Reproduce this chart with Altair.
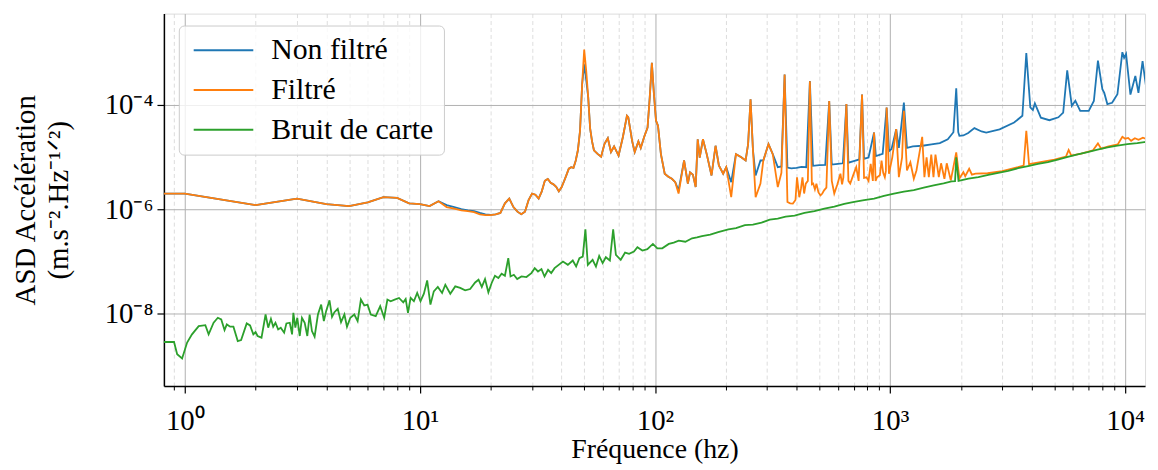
import math
import altair as alt
import pandas as pd

SERIES = ["Non filtré", "Filtré", "Bruit de carte"]
COLORS = ["#1f77b4", "#ff7f0e", "#2ca02c"]

blue_f = [0.5, 1, 2, 3, 4, 5, 6, 7, 8, 9, 10, 11, 12, 13, 14, 15, 16, 17, 18, 19, 20,
          21, 22, 23, 24, 25, 26, 27, 28, 29, 30, 31, 32, 33, 34, 35, 36, 37, 38, 39, 40,
          41, 42, 43, 44, 45, 46, 47, 48, 49, 50, 51, 52, 53, 54, 55, 57, 59, 61, 63, 65,
          67, 70, 73, 76, 77, 80, 82, 85, 87, 90, 93, 95, 97, 99, 101, 103, 106, 110, 114,
          118, 122, 126, 133, 138, 141, 145, 149, 152, 155, 160, 166, 174, 181, 187, 195,
          201, 211, 221, 232, 243, 249, 255, 261, 268, 281, 289, 304, 317, 333, 345, 356,
          366, 380, 400, 420, 440, 456, 470, 500, 530, 551, 565, 600, 630, 652, 665, 700,
          740, 760, 775, 810, 855, 870, 930, 967, 990, 1015, 1062, 1090, 1145, 1180, 1250,
          1374, 1500, 1628, 1760, 1860, 1912, 1950, 1972, 2050, 2150, 2284, 2450, 2565,
          2923, 3370, 3655, 3798, 3950, 4050, 4130, 4380, 4760, 5200, 5450, 5670, 5930,
          6140, 6440, 7000, 7360, 7660, 8000, 8150, 8400, 8800, 9270, 9730, 9900, 10090,
          10530, 11050, 11390, 11860, 12400]
blue_asd = [2.0e-6, 2.0e-6, 1.2e-6, 1.6e-6, 1.25e-6, 1.15e-6, 1.35e-6, 1.7e-6, 1.65e-6,
            1.3e-6, 1.25e-6, 1.15e-6, 1.42e-6, 1.2e-6, 1.1e-6, 1.0e-6, 0.95e-6, 0.92e-6,
            0.85e-6, 0.8e-6, 0.78e-6, 0.8e-6, 0.85e-6, 1.3e-6, 1.6e-6, 1.1e-6, 0.9e-6,
            0.8e-6, 0.9e-6, 1.5e-6, 2.0e-6, 1.9e-6, 1.6e-6, 2.2e-6, 3.5e-6, 3.8e-6, 3.2e-6,
            3.0e-6, 2.7e-6, 2.2e-6, 2.6e-6, 3.4e-6, 4.5e-6, 6.0e-6, 6.4e-6, 6.2e-6, 8.5e-6,
            1.35e-5, 3.2e-5, 2.5e-4, 6.0e-4, 3.0e-4, 1.4e-4, 3.5e-5, 2.0e-5, 1.35e-5,
            1.15e-5, 1.02e-5, 1.8e-5, 2.3e-5, 1.25e-5, 1.6e-5, 1.07e-5, 2.4e-5, 6.2e-5,
            5.8e-5, 2.0e-5, 1.25e-5, 2.0e-5, 1.5e-5, 2.45e-5, 3.7e-5, 1.4e-4, 6.4e-4,
            1.6e-4, 5.0e-5, 4.0e-5, 1.14e-5, 4.8e-6, 4.2e-6, 3.84e-6, 3.3e-6, 2.3e-6,
            8.6e-6, 3.1e-6, 5.1e-6, 4.6e-6, 2.66e-6, 2.2e-5, 9.8e-6, 2.2e-5, 1.14e-5,
            4.44e-6, 1.65e-5, 6.9e-6, 4.8e-6, 6.4e-6, 3.3e-6, 1.14e-5, 1.0e-5, 8.6e-6,
            1.78e-5, 1.29e-4, 1.4e-5, 4.44e-6, 8.6e-6, 8.6e-6, 1.78e-5, 1.14e-5, 6.4e-6,
            6.6e-6, 3.85e-4, 6.3e-6, 6.1e-6, 6.2e-6, 6.5e-6, 6.4e-6, 2.86e-4, 6.8e-6,
            7.0e-6, 7.1e-6, 1.19e-4, 7.2e-6, 7.4e-6, 7.6e-6, 1.04e-4, 7.8e-6, 8.4e-6,
            9.0e-6, 1.58e-4, 9.3e-6, 9.8e-6, 2.96e-5, 1.05e-5, 1.15e-5, 8.9e-5, 1.3e-5,
            1.43e-5, 3.44e-5, 1.5e-5, 1.11e-4, 1.5e-5, 1.6e-5, 1.65e-5, 1.75e-5, 1.85e-5,
            2.2e-5, 3.0e-5, 2.09e-4, 3.0e-5, 2.56e-5, 2.6e-5, 2.9e-5, 3.6e-5, 3.1e-5,
            2.96e-5, 3.4e-5, 4.6e-5, 6.2e-5, 9.9e-4, 9.0e-5, 8.0e-5, 1.07e-4, 5.7e-5,
            5.1e-5, 5.8e-5, 7.1e-5, 4.6e-4, 9.6e-5, 1.2e-4, 7.7e-5, 7.7e-5, 1.19e-4,
            7.1e-4, 2.0e-4, 1.7e-4, 1.04e-4, 1.1e-4, 1.6e-4, 1.03e-3, 8.0e-4, 9.5e-4,
            1.58e-4, 3.6e-4, 1.7e-4, 6.9e-4, 1.6e-4]

orange_f = [0.5, 1, 2, 3, 4, 5, 6, 7, 8, 9, 10, 11, 12, 13, 14, 15, 16, 17, 18, 19, 20,
            21, 22, 23, 24, 25, 26, 27, 28, 29, 30, 31, 32, 33, 34, 35, 36, 37, 38, 39, 40,
            41, 42, 43, 44, 45, 46, 47, 48, 49, 50, 51, 52, 53, 54, 55, 57, 59, 61, 63, 65,
            67, 70, 73, 76, 77, 80, 82, 85, 87, 90, 93, 95, 97, 99, 101, 103, 106, 110, 114,
            118, 122, 126, 133, 138, 141, 145, 149, 152, 155, 160, 166, 174, 181, 187, 195,
            201, 211, 221, 232, 243, 249, 255, 261, 268, 281, 289, 304, 317, 333, 345, 356,
            366, 376, 386, 396, 402, 411, 418, 424, 431, 438, 447, 456, 465, 471, 479, 486,
            496, 506, 515, 524, 536, 551, 565, 579, 597, 615, 625, 633, 652, 665, 677, 697,
            718, 735, 760, 775, 794, 810, 827, 845, 855, 868, 880, 905, 920, 935, 950, 960,
            967, 989, 1022, 1062, 1090, 1125, 1145, 1180, 1220, 1262, 1295, 1370, 1400,
            1430, 1462, 1497, 1530, 1560, 1612, 1648, 1703, 1742, 1813, 1912, 1972, 2050,
            2088, 2170, 2230, 2310, 2600, 3000, 3500, 3700, 3798, 3900, 4300, 5000, 5600,
            5750, 5900, 6500, 7300, 7660, 7900, 8500, 9300, 9730, 10000, 10300, 10600,
            11000, 11400, 11900, 12400]
orange_asd = [2.0e-6, 2.0e-6, 1.2e-6, 1.6e-6, 1.25e-6, 1.15e-6, 1.35e-6, 1.7e-6, 1.65e-6,
              1.3e-6, 1.25e-6, 1.15e-6, 1.42e-6, 1.1e-6, 1.03e-6, 0.95e-6, 0.92e-6, 0.88e-6,
              0.8e-6, 0.77e-6, 0.77e-6, 0.8e-6, 0.85e-6, 1.3e-6, 1.6e-6, 1.1e-6, 0.9e-6,
              0.8e-6, 0.9e-6, 1.5e-6, 2.0e-6, 1.9e-6, 1.6e-6, 2.2e-6, 3.5e-6, 3.8e-6, 3.2e-6,
              3.0e-6, 2.7e-6, 2.2e-6, 2.6e-6, 3.4e-6, 4.5e-6, 6.0e-6, 6.4e-6, 6.2e-6, 8.5e-6,
              1.35e-5, 3.2e-5, 2.5e-4, 1.15e-3, 4.5e-4, 1.4e-4, 3.5e-5, 2.0e-5, 1.35e-5,
              1.15e-5, 1.02e-5, 1.8e-5, 2.3e-5, 1.25e-5, 1.6e-5, 1.07e-5, 2.4e-5, 6.2e-5,
              5.8e-5, 2.0e-5, 1.25e-5, 2.0e-5, 1.5e-5, 2.45e-5, 3.7e-5, 1.4e-4, 6.4e-4,
              1.6e-4, 5.0e-5, 4.0e-5, 1.14e-5, 4.8e-6, 4.2e-6, 3.84e-6, 3.3e-6, 2.0e-6,
              8.6e-6, 3.1e-6, 5.1e-6, 4.6e-6, 2.66e-6, 2.2e-5, 9.8e-6, 2.2e-5, 1.14e-5,
              4.44e-6, 1.65e-5, 6.9e-6, 4.8e-6, 6.4e-6, 1.7e-6, 1.14e-5, 1.0e-5, 8.6e-6,
              1.78e-5, 1.29e-4, 1.4e-5, 1.7e-6, 3.1e-6, 8.6e-6, 1.78e-5, 1.14e-5, 2.66e-6,
              5.0e-6, 3.85e-4, 1.38e-6, 1.3e-6, 1.28e-6, 1.5e-6, 4.1e-6, 1.7e-6, 2.5e-6,
              4.1e-6, 2.0e-6, 3.1e-6, 3.5e-6, 2.86e-4, 3.0e-6, 3.1e-6, 2.4e-6, 3.1e-6,
              2.1e-6, 1.85e-6, 2.0e-6, 2.3e-6, 2.6e-6, 1.19e-4, 3.5e-6, 2.0e-6, 3.0e-6,
              4.8e-6, 3.0e-6, 4.1e-6, 1.04e-4, 3.5e-6, 3.1e-6, 4.5e-6, 6.4e-6, 3.5e-6,
              1.58e-4, 4.0e-6, 4.1e-6, 3.5e-6, 7.4e-6, 3.5e-6, 2.96e-5, 3.5e-6, 4.1e-6,
              4.5e-6, 8.6e-6, 5.0e-6, 4.1e-6, 5.5e-6, 8.9e-5, 4.8e-6, 9.9e-6, 3.44e-5,
              4.12e-6, 9.9e-6, 7.7e-5, 5.53e-6, 7.96e-6, 3.84e-6, 5.53e-6, 2.45e-5, 4.12e-6,
              9.9e-6, 4.12e-6, 1.12e-5, 4.12e-6, 1.12e-5, 4.12e-6, 7.6e-6, 3.84e-6, 7.6e-6,
              3.57e-6, 1.23e-5, 3.9e-6, 5.13e-6, 4.3e-6, 5.95e-6, 4.6e-6, 4.8e-6, 4.9e-6,
              5.4e-6, 6.4e-6, 6.9e-6, 3.2e-5, 7.3e-6, 7.9e-6, 8.9e-6, 1.02e-5, 1.37e-5,
              1.07e-5, 1.17e-5, 1.35e-5, 1.83e-5, 1.45e-5, 1.6e-5, 1.75e-5, 2.45e-5,
              2.25e-5, 2.33e-5, 2.05e-5, 2.3e-5, 2.15e-5, 2.35e-5, 2.2e-5]

green_f = [0.8, 0.9, 0.928, 0.974, 1.023, 1.073, 1.146, 1.223, 1.263, 1.326, 1.382, 1.429,
           1.476, 1.509, 1.56, 1.61, 1.68, 1.736, 1.834, 1.895, 1.957, 2.0, 2.04, 2.12,
           2.206, 2.264, 2.325, 2.377, 2.43, 2.495, 2.56, 2.646, 2.705, 2.796, 2.86, 2.896,
           2.953, 3.01, 3.083, 3.15, 3.236, 3.32, 3.397, 3.474, 3.566, 3.684, 3.803, 3.904,
           3.992, 4.126, 4.23, 4.33, 4.473, 4.62, 4.775, 4.897, 5.06, 5.26, 5.435, 5.612,
           5.8, 5.99, 6.183, 6.49, 6.78, 7.05, 7.275, 7.51, 7.81, 8.15, 8.5, 8.7, 8.9, 9.13,
           9.43, 9.74, 10.06, 10.4, 10.74, 11.09, 11.46, 11.92, 12.43, 12.83, 13.47, 14.14,
           14.84, 15.58, 16.36, 17.18, 17.76, 18.34, 18.93, 19.56, 20.2, 20.86, 21.57,
           22.27, 23.0, 23.77, 24.3, 25.1, 25.94, 27.05, 28.4, 29.8, 30.8, 31.8, 32.9, 33.9,
           35.1, 36.2, 37.4, 40.6, 42.6, 44.7, 46.2, 47.7, 49.3, 50.6, 51.8, 54.3, 56.1,
           57.9, 59.9, 61.8, 64.3, 66.4, 68.2, 71.5, 74.6, 77.6, 81.4, 84.2, 88.4, 92.8,
           98.0, 102.3, 107.4, 114.5, 120.2, 126.2, 134.7, 143.8, 150.9, 158.4, 171.8,
           185.7, 205.3, 221.2, 241.3, 261, 284, 307.8, 332.8, 359.7, 392.6, 432.7, 477,
           525.7, 579.4, 638.6, 704, 775.8, 855, 942.4, 1039, 1145, 1262, 1391, 1533, 1689,
           1826, 1890, 1912, 1955, 2155, 2375, 2618, 2885, 3180, 3504, 3863, 4257, 4692,
           5171, 5699, 6281, 6923, 7630, 8410, 9270, 10220, 11260, 12410]
green_asd = [2.84e-9, 2.84e-9, 1.66e-9, 1.37e-9, 2.77e-9, 3.98e-9, 5.73e-9, 5.98e-9,
             3.98e-9, 6.65e-9, 8.28e-9, 7.69e-9, 4.81e-9, 6.17e-9, 5.58e-9, 5.58e-9,
             2.96e-9, 3.1e-9, 6.45e-9, 5.9e-9, 3.98e-9, 4.4e-9, 3.7e-9, 3.44e-9, 9.57e-9,
             5.35e-9, 7.9e-9, 5.58e-9, 6.65e-9, 4.96e-9, 5.35e-9, 4.29e-9, 6.45e-9, 6.65e-9,
             3.98e-9, 1.03e-8, 5.35e-9, 8.28e-9, 3.7e-9, 8.28e-9, 6.65e-9, 3.7e-9, 9.57e-9,
             4.6e-9, 3.6e-9, 9.57e-9, 1.48e-8, 7.13e-9, 1.11e-8, 1.79e-8, 8.65e-9, 1.06e-8,
             1.23e-8, 6.83e-9, 9.57e-9, 5.58e-9, 8.28e-9, 9.57e-9, 7.13e-9, 1.85e-8, 1.42e-8,
             1.48e-8, 9.57e-9, 8.89e-9, 1.38e-8, 8.28e-9, 1.85e-8, 1.72e-8, 1.85e-8, 1.99e-8,
             1.64e-8, 1.9e-8, 1.03e-8, 1.99e-8, 1.72e-8, 2.48e-8, 1.72e-8, 2.4e-8, 4.31e-8,
             1.48e-8, 2.66e-8, 3.23e-8, 2.48e-8, 3.56e-8, 2.4e-8, 3.31e-8, 3.09e-8, 2.78e-8,
             2.95e-8, 3.94e-8, 4.44e-8, 3.23e-8, 4.58e-8, 2.55e-8, 3.85e-8, 5.3e-8, 4.79e-8,
             5.78e-8, 5.3e-8, 1.15e-7, 5.13e-8, 5.53e-8, 4.58e-8, 5.13e-8, 5.0e-8, 5.96e-8,
             7.41e-8, 6.4e-8, 7.1e-8, 5.13e-8, 6.9e-8, 5.96e-8, 7.41e-8, 9.9e-8, 8.58e-8,
             1.04e-7, 7.96e-8, 1.15e-7, 1.23e-7, 4.1e-7, 8.58e-8, 1.07e-7, 7.96e-8, 1.27e-7,
             9.25e-8, 1.2e-7, 1.04e-7, 4.1e-7, 1.33e-7, 1.07e-7, 1.47e-7, 1.39e-7, 1.54e-7,
             1.86e-7, 1.61e-7, 1.71e-7, 2.16e-7, 1.78e-7, 1.78e-7, 2.16e-7, 2.28e-7, 2.49e-7,
             2.38e-7, 2.77e-7, 2.89e-7, 3.06e-7, 3.27e-7, 3.65e-7, 4.1e-7, 4.35e-7, 4.96e-7,
             5.07e-7, 5.53e-7, 6.31e-7, 6.59e-7, 7.19e-7, 7.52e-7, 8.5e-7, 9.16e-7, 1.03e-6,
             1.12e-6, 1.27e-6, 1.39e-6, 1.5e-6, 1.6e-6, 1.81e-6, 1.99e-6, 2.17e-6, 2.33e-6,
             2.6e-6, 2.86e-6, 3.13e-6, 3.41e-6, 3.45e-6, 9.9e-6, 3.49e-6, 3.85e-6, 4.12e-6,
             4.58e-6, 5.0e-6, 5.46e-6, 6.12e-6, 6.74e-6, 7.42e-6, 8.03e-6, 8.96e-6, 1.01e-5,
             1.13e-5, 1.24e-5, 1.39e-5, 1.54e-5, 1.66e-5, 1.78e-5, 1.86e-5, 1.97e-5]

x_major = [1, 10, 100, 1000, 10000]
x_major_labels = ["10⁰", "10¹", "10²", "10³", "10⁴"]
x_minor = [0.9, 2, 3, 4, 5, 6, 7, 8, 9, 20, 30, 40, 50, 60, 70, 80, 90,
           200, 300, 400, 500, 600, 700, 800, 900,
           2000, 3000, 4000, 5000, 6000, 7000, 8000, 9000]
y_major = [1e-8, 1e-6, 1e-4]
y_major_labels = ["10⁻⁸", "10⁻⁶", "10⁻⁴"]

X_DOMAIN = [0.815, 12150]
Y_DOMAIN = [4.07e-10, 5.65e-3]

FONT = "Liberation Serif"

rows = []
for name, fs, vs in [(SERIES[0], blue_f, blue_asd),
                     (SERIES[1], orange_f, orange_asd),
                     (SERIES[2], green_f, green_asd)]:
    for f, v in zip(fs, vs):
        rows.append({"f": f, "asd": v, "serie": name})
df = pd.DataFrame(rows)


def label_expr(values, labels):
    expr = "''"
    for v, lab in zip(values, labels):
        e = round(math.log10(v))
        expr = f"round(log(datum.value)/LN10) == {e} ? '{lab}' : " + expr
    return expr


xscale = alt.Scale(type="log", domain=X_DOMAIN, nice=False)
yscale = alt.Scale(type="log", domain=Y_DOMAIN, nice=False)

y_axis = alt.Axis(values=y_major, labelExpr=label_expr(y_major, y_major_labels),
                  title=["ASD Accélération", "(m.s⁻².Hz⁻¹ᐟ²)"],
                  grid=True, gridColor="#b0b0b0", gridWidth=1,
                  tickSize=7, tickWidth=1.2, tickColor="black",
                  domainColor="black", domainWidth=1.5,
                  labelFont=FONT, labelFontSize=29, labelColor="black", labelPadding=4,
                  titleFont=FONT, titleFontSize=29, titleFontWeight="normal",
                  titleColor="black", titlePadding=31, titleLineHeight=33)

x_axis_major = alt.Axis(values=x_major, labelExpr=label_expr(x_major, x_major_labels),
                        title="Fréquence (hz)", orient="bottom",
                        grid=True, gridColor="#b0b0b0", gridWidth=1,
                        tickSize=7, tickWidth=1.2, tickColor="black",
                        domainColor="black", domainWidth=1.5,
                        labelFont=FONT, labelFontSize=29, labelColor="black",
                        labelPadding=14, labelFlush=False,
                        titleFont=FONT, titleFontSize=28, titleFontWeight="normal",
                        titleColor="black", titlePadding=0)

x_axis_minor = alt.Axis(values=x_minor, labels=False, title="", orient="bottom",
                        grid=True, gridColor="#d4d4d4", gridDash=[4, 3], gridWidth=0.8,
                        tickSize=4, tickWidth=1, tickColor="black", domain=False)

color = alt.Color("serie:N", scale=alt.Scale(domain=SERIES, range=COLORS),
                  sort=SERIES,
                  legend=alt.Legend(title=None, orient="none", legendX=15, legendY=12,
                                    symbolType="M-1,0H5", symbolSize=400,
                                    symbolStrokeWidth=2, labelFont=FONT,
                                    labelFontSize=30, labelColor="black",
                                    labelOffset=53, rowPadding=10, padding=10,
                                    labelLimit=400,
                                    fillColor="rgba(255,255,255,0.8)",
                                    strokeColor="#cccccc", cornerRadius=5))

base = alt.Chart(df)

minor_layer = base.mark_line(opacity=0).encode(
    x=alt.X("f:Q", scale=xscale, axis=x_axis_minor),
    y=alt.Y("asd:Q", scale=yscale, axis=y_axis),
)


def series_layer(name, axis):
    return base.transform_filter(alt.datum.serie == name).mark_line(
        strokeWidth=1.8, clip=True).encode(
        x=alt.X("f:Q", scale=xscale, axis=axis),
        y=alt.Y("asd:Q", scale=yscale, axis=y_axis),
        color=color,
    )


chart = alt.layer(
    minor_layer,
    series_layer(SERIES[0], x_axis_major),
    series_layer(SERIES[1], None),
    series_layer(SERIES[2], None),
).resolve_axis(x="independent").properties(
    width=988, height=375,
    autosize=alt.AutoSizeParams(type="none"),
    padding={"left": 157, "top": 4, "right": 5, "bottom": 90},
).configure_view(stroke="black", strokeWidth=1.5).configure(background="white", font=FONT)

chart.save("out.html", embed_options={"renderer": "svg", "actions": False})
